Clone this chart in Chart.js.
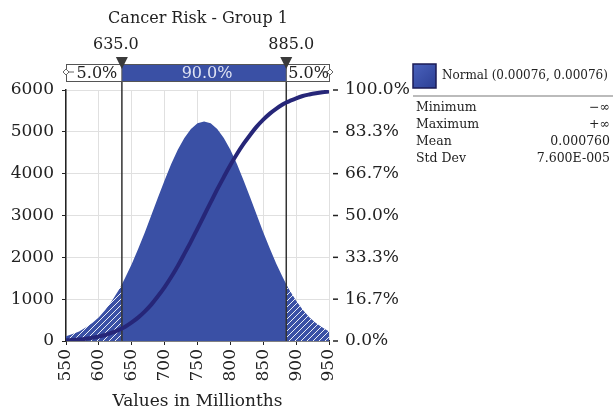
<!DOCTYPE html>
<html>
<head>
<meta charset="utf-8">
<script src="https://cdn.jsdelivr.net/npm/chart.js@4.4.1/dist/chart.umd.min.js"></script>
<style>
  body { margin: 0; background: #fff; }
  #wrap { width: 613px; height: 414px; }
</style>
</head>
<body>
<div id="wrap"><canvas id="riskChart"></canvas></div>
<script>
// values in millionths
const xValues = [550, 560, 570, 580, 590, 600, 610, 620, 630, 635, 640, 650, 660, 670, 680, 690, 700, 710, 720, 730, 740, 750,
    760, 770, 780, 790, 800, 810, 820, 830, 840, 850, 860, 870, 880, 885, 890, 900, 910, 920, 930, 940, 950]
// histogram height (left axis)
const density = [115, 165, 230, 320, 430, 570, 750, 960, 1215, 1355, 1510, 1840, 2210, 2600, 3015, 3435, 3845, 4230, 4570, 4855, 5070, 5205,
    5250, 5205, 5070, 4855, 4570, 4230, 3845, 3435, 3015, 2600, 2210, 1840, 1510, 1355, 1215, 960, 750, 570, 430, 320, 230]
// cumulative curve, percent (right axis)
const cumulative = [0.3, 0.4, 0.6, 0.9, 1.3, 1.8, 2.4, 3.3, 4.4, 5.0, 5.7, 7.4, 9.4, 11.8, 14.6, 17.9, 21.5, 25.5, 29.9, 34.7, 39.6, 44.8,
    50.0, 55.2, 60.4, 65.3, 70.1, 74.5, 78.5, 82.1, 85.4, 88.2, 90.6, 92.6, 94.3, 95.0, 95.6, 96.7, 97.6, 98.2, 98.7, 99.1, 99.4]

const pctTicks = ['0.0%', '16.7%', '33.3%', '50.0%', '66.7%', '83.3%', '100.0%']
const lowCut = 635
const highCut = 885
const cutLabels = ['635.0', '885.0']
const bandLabels = ['5.0%', '90.0%', '5.0%']
const legendLabel = 'Normal (0.00076, 0.00076)'
const statNames = ['Minimum', 'Maximum', 'Mean', 'Std Dev']
const statValues = ['\u2212\u221e', '+\u221e', '0.000760', '7.600E-005']

const BLUE = '#3a50a5'
const NAVY = '#262678'
const INK = '#222'
const FONT = "'DejaVu Serif'"

function hatch(color) {
    const c = document.createElement('canvas')
    c.width = 6; c.height = 6
    const g = c.getContext('2d')
    g.fillStyle = color
    g.fillRect(0, 0, 6, 6)
    g.strokeStyle = 'rgba(255,255,255,0.9)'
    g.lineWidth = 1
    g.beginPath()
    g.moveTo(0, 6); g.lineTo(6, 0)
    g.moveTo(-2, 2); g.lineTo(2, -2)
    g.moveTo(4, 8); g.lineTo(8, 4)
    g.stroke()
    return g.createPattern(c, 'repeat')
}

const pts = xValues.map((x, i) => ({ x: x, y: density[i] }))
const leftTail = pts.filter(p => p.x <= lowCut)
const middle = pts.filter(p => p.x >= lowCut && p.x <= highCut)
const rightTail = pts.filter(p => p.x >= highCut)
const cumPts = xValues.map((x, i) => ({ x: x, y: cumulative[i] }))

const overlay = {
    id: 'overlay',
    beforeDatasetsDraw(chart) {
        const ctx = chart.ctx
        const xs = chart.scales.x
        const area = chart.chartArea
        const x1 = xs.getPixelForValue(lowCut)
        const x2 = xs.getPixelForValue(highCut)
        chart.$cuts = [x1, x2]
    },
    afterDatasetDraw(chart, args) {
        // cut lines sit above the fill but under the cumulative curve
        if (args.index !== 1) return
        const ctx = chart.ctx
        const area = chart.chartArea
        ctx.save()
        ctx.strokeStyle = '#333'
        ctx.lineWidth = 1.5
        ctx.beginPath()
        chart.$cuts.forEach(cx => { ctx.moveTo(cx, 64); ctx.lineTo(cx, area.bottom) })
        ctx.stroke()
        ctx.restore()
    },
    afterDraw(chart) {
        const ctx = chart.ctx
        const area = chart.chartArea
        const [x1, x2] = chart.$cuts
        const bTop = 64, bH = 17
        ctx.save()

        // title
        ctx.fillStyle = INK
        ctx.textAlign = 'center'
        ctx.textBaseline = 'middle'
        ctx.font = '16px ' + FONT
        ctx.fillText('Cancer Risk - Group 1', 198, 19)
        ctx.fillText(cutLabels[0], x1 - 6, 45)
        ctx.fillText(cutLabels[1], x2 + 5, 45)

        // band
        ctx.fillStyle = '#fff'
        ctx.fillRect(area.left, bTop, x1 - area.left, bH)
        ctx.fillRect(x2, bTop, area.right + 1 - x2, bH)
        ctx.fillStyle = BLUE
        ctx.fillRect(x1, bTop, x2 - x1, bH)
        ctx.strokeStyle = '#555'
        ctx.lineWidth = 1
        ctx.strokeRect(area.left + 0.5, bTop + 0.5, area.right - area.left, bH)
        ctx.beginPath()
        ctx.moveTo(x1, bTop); ctx.lineTo(x1, bTop + bH)
        ctx.moveTo(x2, bTop); ctx.lineTo(x2, bTop + bH)
        ctx.stroke()

        ctx.fillStyle = INK
        ctx.fillText(bandLabels[0], (area.left + x1) / 2 + 3, bTop + bH / 2 + 1)
        ctx.fillText(bandLabels[2], (x2 + area.right) / 2 + 1, bTop + bH / 2 + 1)
        ctx.fillStyle = '#dfe3f3'
        ctx.fillText(bandLabels[1], (x1 + x2) / 2 + 3, bTop + bH / 2 + 1)

        // band handles
        ctx.strokeStyle = '#666'
        ctx.fillStyle = '#fff'
        ;[[area.left, 1], [area.right + 1, -1]].forEach(([hx, d]) => {
            ctx.beginPath()
            ctx.moveTo(hx - 3, bTop + 8); ctx.lineTo(hx, bTop + 5); ctx.lineTo(hx + 3, bTop + 8); ctx.lineTo(hx, bTop + 11); ctx.closePath()
            ctx.fill(); ctx.stroke()
            ctx.beginPath()
            ctx.moveTo(hx + 3 * d, bTop + 8); ctx.lineTo(hx + 8 * d, bTop + 8)
            ctx.stroke()
        })

        // triangles
        ctx.fillStyle = '#3a3a3a'
        ;[x1, x2].forEach(tx => {
            ctx.beginPath()
            ctx.moveTo(tx - 6, 57); ctx.lineTo(tx + 6, 57); ctx.lineTo(tx, 69); ctx.closePath()
            ctx.fill()
        })

        // right axis dashes
        ctx.strokeStyle = INK
        ctx.lineWidth = 1.5
        chart.scales.yPct.ticks.forEach(t => {
            const ty = chart.scales.yPct.getPixelForValue(t.value)
            ctx.beginPath()
            ctx.moveTo(333, ty); ctx.lineTo(338, ty)
            ctx.stroke()
        })

        // legend box
        const grad = ctx.createLinearGradient(413, 64, 436, 88)
        grad.addColorStop(0, '#4a62bd')
        grad.addColorStop(1, '#2c3f94')
        ctx.fillStyle = grad
        ctx.fillRect(413, 64, 23, 24)
        ctx.strokeStyle = '#1b1b55'
        ctx.lineWidth = 1.5
        ctx.strokeRect(413, 64, 23, 24)
        ctx.fillStyle = INK
        ctx.textAlign = 'left'
        ctx.font = '12px ' + FONT
        ctx.fillText(legendLabel, 442, 76)

        ctx.strokeStyle = '#bbb'
        ctx.lineWidth = 2
        ctx.beginPath()
        ctx.moveTo(413, 96); ctx.lineTo(613, 96)
        ctx.stroke()

        // stats table
        ctx.font = '12.5px ' + FONT
        statNames.forEach((n, i) => {
            const ry = 108 + i * 17
            ctx.textAlign = 'left'
            ctx.fillText(n, 416, ry)
            ctx.textAlign = 'right'
            ctx.fillText(statValues[i], 610, ry)
        })
        ctx.restore()
    }
}

const ctx = document.getElementById('riskChart').getContext('2d')
new Chart(ctx, {
    type: 'line',
    data: {
        datasets: [{
            label: 'Cumulative',
            data: cumPts,
            yAxisID: 'yPct',
            borderColor: NAVY,
            borderWidth: 4,
            pointRadius: 0,
            tension: 0.3,
            fill: false,
            order: 0
        }, {
            label: 'Left tail',
            data: leftTail,
            yAxisID: 'y',
            borderWidth: 0,
            pointRadius: 0,
            backgroundColor: hatch(BLUE),
            fill: 'origin',
            order: 1
        }, {
            label: 'Middle',
            data: middle,
            yAxisID: 'y',
            borderWidth: 0,
            pointRadius: 0,
            backgroundColor: BLUE,
            fill: 'origin',
            order: 1
        }, {
            label: 'Right tail',
            data: rightTail,
            yAxisID: 'y',
            borderWidth: 0,
            pointRadius: 0,
            backgroundColor: hatch(BLUE),
            fill: 'origin',
            order: 1
        }]
    },
    options: {
        responsive: true,
        maintainAspectRatio: false,
        animation: false,
        layout: { padding: { top: 90, left: 0, right: 0, bottom: 0 } },
        plugins: {
            legend: { display: false },
            tooltip: { enabled: false }
        },
        scales: {
            x: {
                type: 'linear',
                min: 550,
                max: 950,
                afterFit: s => { s.height = 73 },
                border: { color: INK, width: 1.5 },
                grid: { color: '#e0e0e0', tickColor: INK, tickLength: 4 },
                ticks: {
                    stepSize: 50,
                    minRotation: 90,
                    maxRotation: 90,
                    padding: 4,
                    color: INK,
                    font: { family: FONT, size: 17 },
                    callback: v => String(v)
                },
                title: {
                    display: true,
                    text: 'Values in Millionths',
                    color: INK,
                    padding: { top: 2, bottom: 2 },
                    font: { family: FONT, size: 17 }
                }
            },
            y: {
                position: 'left',
                min: 0,
                max: 6000,
                afterFit: s => { s.width = 66 },
                border: { color: INK, width: 1.5 },
                grid: { color: '#e0e0e0', tickColor: INK, tickLength: 4 },
                ticks: {
                    stepSize: 1000,
                    padding: 8,
                    color: INK,
                    font: { family: FONT, size: 17 },
                    callback: v => String(v)
                }
            },
            yPct: {
                position: 'right',
                min: 0,
                max: 100,
                afterFit: s => { s.width = 284 },
                afterBuildTicks: s => { s.ticks = pctTicks.map((t, i) => ({ value: i * 100 / 6 })) },
                border: { display: false },
                grid: { drawOnChartArea: false, drawTicks: false },
                ticks: {
                    padding: 16,
                    color: INK,
                    font: { family: FONT, size: 17 },
                    callback: (v, i) => pctTicks[i]
                }
            }
        }
    },
    plugins: [overlay]
});
</script>
</body>
</html>
